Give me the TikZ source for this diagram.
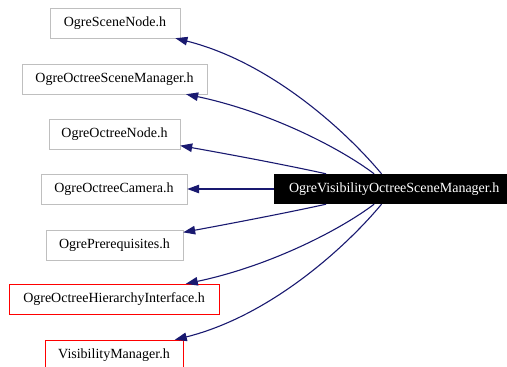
\documentclass[tikz,border=0pt]{standalone}
\usepackage{fontspec}
\setmainfont{Liberation Serif}
\usetikzlibrary{arrows.meta}
\definecolor{edge}{HTML}{191970}
\definecolor{frame}{HTML}{BFBFBF}

\begin{document}
\begin{tikzpicture}[x=1pt,y=-1pt,
    hdr/.style={draw=frame,fill=white,minimum height=30pt,inner sep=0pt,font=\fontsize{14}{16}\selectfont},
    miss/.style={hdr,draw=red},
    dep/.style={-{Triangle[length=12pt,width=8.5pt]},edge,line width=1.1pt}]
        \clip (0,0) rectangle (507,367);
        \node[anchor=west,fill=black,text=white,minimum width=240pt,minimum height=30pt,inner xsep=11pt,inner ysep=0pt,font=\fontsize{14}{16}\selectfont] (main) at (274,189){OgreVisibilityOctreeSceneManager.h};
        \node[hdr,minimum width=130pt] (scene) at (115,23){OgreSceneNode.h};
        \node[hdr,minimum width=185pt] (mgr) at (114.5,79){OgreOctreeSceneManager.h};
        \node[hdr,minimum width=131pt] (onode) at (114.5,134){OgreOctreeNode.h};
        \node[hdr,minimum width=146pt] (cam) at (114,189){OgreOctreeCamera.h};
        \node[hdr,minimum width=137pt] (prereq) at (114.5,245){OgrePrerequisites.h};
        \node[miss,minimum width=210pt] (hier) at (114,299){OgreOctreeHierarchyInterface.h};
        \node[miss,minimum width=138pt] (vis) at (114,355){VisibilityManager.h};
        \draw[dep] (main) .. controls (345,130) and (270,62) .. (scene);
        \draw[dep] (main) .. controls (340,148) and (270,112) .. (mgr);
        \draw[dep] (main) .. controls (300,168) and (250,158) .. (onode);
        \draw[dep] (main) -- (cam);
        \draw[dep] (main) .. controls (300,210) and (250,220) .. (prereq);
        \draw[dep] (main) .. controls (340,230) and (270,266) .. (hier);
        \draw[dep] (main) .. controls (345,248) and (270,316) .. (vis);
      \end{tikzpicture}
\end{document}
